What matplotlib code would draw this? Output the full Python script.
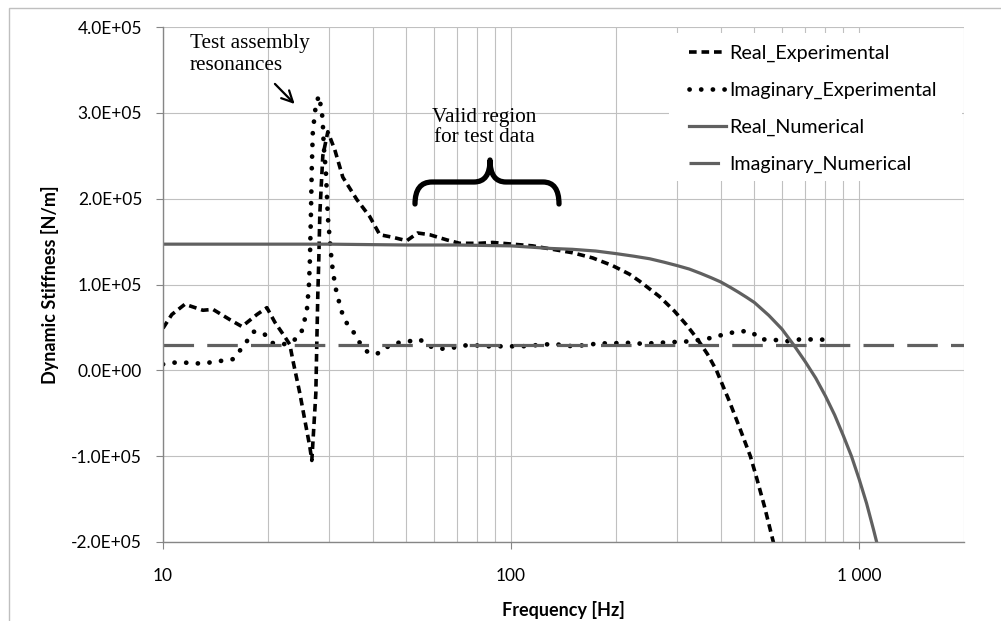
import matplotlib
matplotlib.use('Agg')
import matplotlib.pyplot as plt
import numpy as np
from matplotlib.lines import Line2D
from matplotlib.path import Path
from matplotlib.patches import PathPatch, Rectangle
from matplotlib.ticker import LogLocator, NullFormatter, FuncFormatter

plt.rcParams['font.family'] = ['Lato', 'DejaVu Sans']
plt.rcParams['lines.scale_dashes'] = False

# values, stiffness in units of 1e5 N/m
real_exp_f = [10, 10.6, 11.56, 13.02, 13.92, 15.57, 16.86, 18.61, 19.88, 20.96,
              22.39, 23.14, 23.6, 24.73, 25.55, 26.41, 26.76, 27.12, 27.48, 27.66,
              27.85, 28.03, 28.22, 28.78, 29.75, 31.15, 32.85, 36.04, 39.27, 41.95,
              45.71, 50.13, 53.9, 58.36, 65.3, 71.16, 81.2, 88.5, 101, 115.3,
              131.5, 150.1, 171.4, 195.6, 218.8, 233.7, 266.8, 294.6, 318.9, 340.7,
              366.4, 388.9, 423.6, 452.5, 486.7, 506.3, 533.9, 566.6, 589.5]
real_exp = [0.49, 0.65, 0.77, 0.70, 0.71, 0.59, 0.51, 0.65, 0.73, 0.56,
            0.39, 0.30, 0.12, -0.27, -0.58, -0.89, -1.05, -0.66, -0.27, 0.32,
            0.90, 1.30, 1.83, 2.50, 2.78, 2.57, 2.25, 1.99, 1.79, 1.58,
            1.55, 1.51, 1.60, 1.58, 1.52, 1.48, 1.48, 1.49, 1.47, 1.45,
            1.41, 1.37, 1.31, 1.22, 1.12, 1.04, 0.86, 0.69, 0.53, 0.38,
            0.19, 0.00, -0.36, -0.66, -1.00, -1.24, -1.58, -2.00, -2.28]

imag_exp_f = [10, 10.6, 11.56, 12.52, 13.55, 14.67, 15.88, 16.63, 17.42, 18.24,
              19.49, 20.55, 22.0, 23.46, 24.89, 25.39, 25.9, 26.07, 26.24, 26.41,
              26.6, 26.76, 26.94, 27.48, 28.03, 28.59, 28.78, 28.97, 29.36, 29.55,
              29.75, 30.15, 30.55, 30.95, 31.36, 31.99, 32.63, 33.73, 35.33, 36.76,
              38.75, 41.12, 43.93, 47.24, 51.15, 54.64, 58.36, 62.35, 67.49, 73.54,
              79.62, 85.6, 92.7, 100.3, 107.9, 115.3, 124.8, 133.3, 144.3, 154.2,
              165.8, 178.3, 191.7, 204.8, 221.7, 236.9, 266.8, 288.8, 308.4, 325.2,
              340.7, 359.1, 376.1, 401.8, 432.1, 477.0, 506.2, 523.3, 559.0, 609.3,
              650.9, 672.6, 718.5, 778.0, 798.8]
imag_exp = [0.07, 0.09, 0.09, 0.08, 0.09, 0.11, 0.13, 0.23, 0.34, 0.45,
            0.43, 0.32, 0.30, 0.33, 0.42, 0.55, 0.70, 0.84, 0.97, 1.25,
            1.80, 2.37, 2.78, 3.09, 3.20, 3.02, 2.88, 2.60, 2.33, 2.07,
            1.79, 1.52, 1.25, 1.09, 0.95, 0.81, 0.68, 0.55, 0.44, 0.32,
            0.21, 0.19, 0.27, 0.32, 0.34, 0.36, 0.28, 0.25, 0.26, 0.29,
            0.29, 0.28, 0.28, 0.28, 0.28, 0.29, 0.30, 0.31, 0.28, 0.29,
            0.29, 0.32, 0.31, 0.32, 0.32, 0.31, 0.32, 0.33, 0.33, 0.34,
            0.35, 0.36, 0.38, 0.41, 0.44, 0.46, 0.41, 0.36, 0.36, 0.34,
            0.34, 0.36, 0.36, 0.36, 0.35]

real_num_f = [10, 20, 30, 50, 70, 100, 130, 150, 175, 200, 225, 250, 275, 300, 325, 350,
              375, 400, 425, 450, 475, 500, 550, 600, 650, 700, 750, 800, 850, 900,
              950, 1000, 1050, 1100, 1150]
real_num = [1.47, 1.47, 1.47, 1.46, 1.46, 1.45, 1.42, 1.41, 1.39, 1.36, 1.33, 1.30, 1.26, 1.22,
            1.18, 1.13, 1.08, 1.03, 0.97, 0.91, 0.85, 0.79, 0.64, 0.48, 0.29, 0.10,
            -0.09, -0.30, -0.52, -0.76, -1.00, -1.27, -1.55, -1.86, -2.17]

imag_num_f = [10, 2000]
imag_num = [0.29, 0.29]

series_names = ['Real_Experimental', 'Imaginary_Experimental', 'Real_Numerical', 'Imaginary_Numerical']

gray = '#606060'
grid_c = '#c0c0c0'
styles = [dict(color='black', lw=2.6, dashes=(5.5, 3.5)),
          dict(color='black', lw=3.4, dashes=(0.1, 8.3), dash_capstyle='round'),
          dict(color=gray, lw=2.3),
          dict(color=gray, lw=2.3, dashes=(22, 9.5))]

fig = plt.figure(figsize=(10.01, 6.21), dpi=100)
ax = fig.add_axes([163 / 1001, 1 - 542 / 621, 801 / 1001, 515 / 621])
ax.set_xscale('log')

data = [(real_exp_f, real_exp), (imag_exp_f, imag_exp), (real_num_f, real_num), (imag_num_f, imag_num)]
for (f, v), name, st in zip(data, series_names, styles):
    ax.plot(f, np.array(v) * 1e5, label=name, **st)

ax.set_xlim(10, 2000)
ax.set_ylim(-2e5, 4e5)
ax.set_yticks(np.arange(-2e5, 4.01e5, 1e5))
ax.yaxis.set_major_formatter(FuncFormatter(lambda v, p: f'{v:.1E}'))
ax.set_xticks([10, 100, 1000], ['10', '100', '1 000'])
ax.xaxis.set_minor_locator(LogLocator(base=10, subs=np.arange(2, 10)))
ax.xaxis.set_minor_formatter(NullFormatter())

ax.grid(True, which='both', axis='x', color=grid_c, lw=0.8)
ax.grid(True, which='major', axis='y', color=grid_c, lw=0.8)
ax.set_axisbelow(True)
for s in ['top', 'right']:
    ax.spines[s].set_visible(False)
for s in ['left', 'bottom']:
    ax.spines[s].set_color('#868686')
    ax.spines[s].set_linewidth(1.0)
ax.tick_params(axis='both', which='major', length=5, color='#868686', labelsize=12.5)
ax.tick_params(axis='y', pad=10)
ax.tick_params(axis='x', pad=14)
ax.tick_params(axis='x', which='minor', length=0)

ax.set_ylabel('Dynamic Stiffness [N/m]', fontsize=13, fontweight='bold', labelpad=9)
ax.set_xlabel('Frequency [Hz]', fontsize=13, fontweight='bold', labelpad=12)

# legend: white box over the grid, one row per series
def px(x, y):
    return ((x - 163) / 801, (542 - y) / 515)

ax.add_patch(Rectangle(px(669, 181), 293 / 801, 148 / 515,
                       transform=ax.transAxes, facecolor='white', edgecolor='none', zorder=1))
for i, (name, st) in enumerate(zip(series_names, styles)):
    yrow = 52 + 37 * i
    (x0, y0), (x1, _) = px(689, yrow), px(726, yrow)
    ax.add_line(Line2D([x0, x1], [y0, y0], transform=ax.transAxes, **st))
    ax.text(px(729, yrow)[0], y0, name, transform=ax.transAxes, fontsize=14.2,
            ha='left', va='center_baseline')

serif = ['Liberation Serif', 'DejaVu Serif']
ax.text(11.95, 3.68e5, 'Test assembly\nresonances', family=serif, fontsize=15.3,
        ha='left', va='center', linespacing=1.15)
ax.annotate('', xy=(24.2, 3.08e5), xytext=(20.7, 3.36e5),
            arrowprops=dict(arrowstyle='->,head_length=0.8,head_width=0.4', lw=1.6, color='black'))
ax.text(83.7, 2.83e5, 'Valid region\nfor test data', family=serif, fontsize=15.3,
        ha='center', va='center', linespacing=1.1)

# curly brace over the valid region, drawn in axes fractions
verts = [px(415, 204), px(415, 182), px(432, 182), px(474, 182), px(490, 182), px(490, 160),
         px(490, 182), px(506, 182), px(543, 182), px(559, 182), px(559, 204)]
codes = [Path.MOVETO, Path.CURVE3, Path.CURVE3, Path.LINETO, Path.CURVE3, Path.CURVE3,
         Path.CURVE3, Path.CURVE3, Path.LINETO, Path.CURVE3, Path.CURVE3]
ax.add_patch(PathPatch(Path(verts, codes), transform=ax.transAxes, fill=False,
                       lw=3.8, edgecolor='black', capstyle='round', joinstyle='round'))

fig.patches.append(Rectangle((9 / 1001, -0.1), 1.2, 613 / 621 + 0.1, transform=fig.transFigure,
                             fill=False, edgecolor='#bfbfbf', lw=1.0))

fig.savefig('out.png', dpi=100)
